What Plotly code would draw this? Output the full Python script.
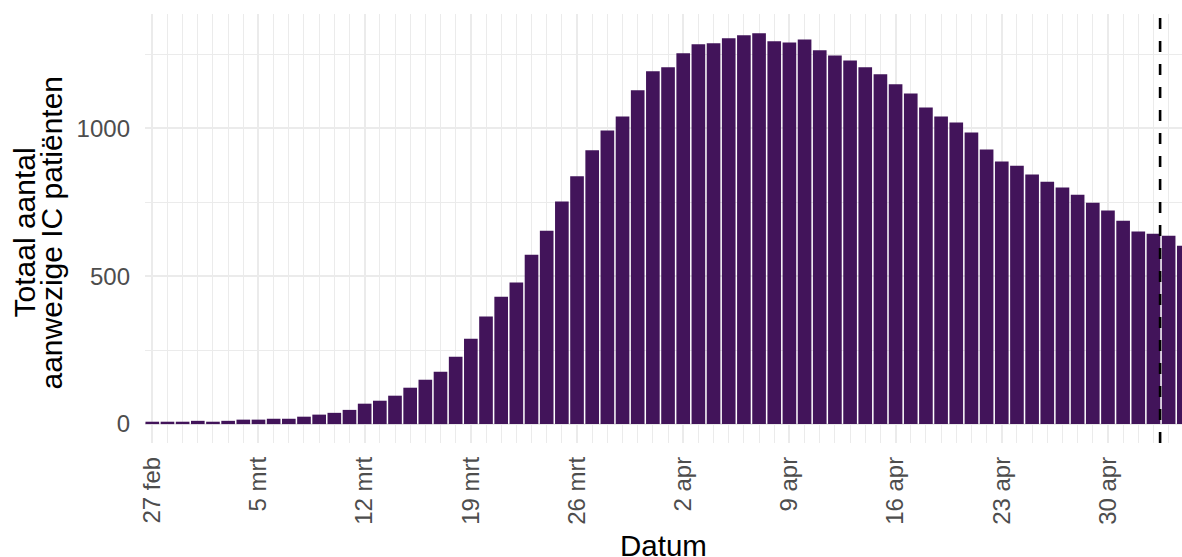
import pandas as pd
import plotly.graph_objects as go

# ---- data -------------------------------------------------------------
start_date = "2020-02-27"
ic_patients = [
    8, 8, 8, 11, 8, 11, 15, 15, 18, 18, 25, 32, 38, 48, 69, 79, 96, 123,
    150, 177, 228, 289, 364, 431, 479, 573,
    654, 753, 838, 926, 993, 1040, 1129, 1193, 1207, 1254, 1285, 1288,
    1305, 1315, 1322, 1295, 1291, 1301, 1264, 1247, 1230, 1207, 1183, 1149,
    1118, 1071, 1040, 1020, 986, 929, 888, 874, 844, 820, 800, 776, 749,
    722, 688, 651, 644, 637, 603,
]
dates = pd.date_range(start_date, periods=len(ic_patients), freq="D")

tick_dates = ["2020-02-27", "2020-03-05", "2020-03-12", "2020-03-19", "2020-03-26",
              "2020-04-02", "2020-04-09", "2020-04-16", "2020-04-23", "2020-04-30"]
tick_labels = ["27 feb", "5 mrt", "12 mrt", "19 mrt", "26 mrt",
               "2 apr", "9 apr", "16 apr", "23 apr", "30 apr"]
y_ticks = [0, 500, 1000]
cutoff_date = "2020-05-03 10:30"

# the panel runs a little past the right edge of the window, so the last bar is cut
x_range = ["2020-02-26 12:28", "2020-05-05 12:58"]
y_range = [-64, 1387]

# ---- styling ----------------------------------------------------------
FONT = "Liberation Sans, Arial, sans-serif"
BAR_COLOR = "#42145A"
GRID = "#EBEBEB"
DAY_MS = 86400000
TICK_SIZE = 24
TITLE_SIZE = 29.5
YTITLE_SIZE = 30

fig = go.Figure()
fig.add_trace(go.Bar(
    x=dates, y=ic_patients,
    width=[0.9 * DAY_MS] * len(ic_patients),
    marker=dict(color=BAR_COLOR, line=dict(width=0)),
    hoverinfo="x+y",
))

fig.add_shape(
    type="line", xref="x", yref="paper",
    x0=cutoff_date, x1=cutoff_date, y0=0, y1=1,
    line=dict(color="black", width=2.6, dash="11px,12px"),
)

fig.update_layout(
    width=1192, height=557,
    margin=dict(l=145, r=0, t=14, b=114),
    plot_bgcolor="white", paper_bgcolor="white",
    showlegend=False,
    font=dict(family=FONT, size=TICK_SIZE, color="#4D4D4D"),
    xaxis=dict(
        type="date", range=x_range,
        tickmode="array", tickvals=tick_dates, ticktext=tick_labels,
        tickangle=-90, ticks="", ticklabelstandoff=8,
        tickfont=dict(size=TICK_SIZE, color="#4D4D4D"),
        showgrid=True, gridcolor=GRID, gridwidth=2,
        zeroline=False, showline=False,
        minor=dict(tickmode="linear", tick0=start_date, dtick=DAY_MS,
                   showgrid=True, gridcolor=GRID, gridwidth=1, ticks=""),
    ),
    yaxis=dict(
        range=y_range,
        tickmode="array", tickvals=y_ticks, ticks="", ticklabelstandoff=14,
        tickfont=dict(size=TICK_SIZE, color="#4D4D4D"),
        showgrid=True, gridcolor=GRID, gridwidth=2,
        zeroline=False, showline=False,
        minor=dict(tickmode="linear", tick0=250, dtick=500,
                   showgrid=True, gridcolor=GRID, gridwidth=1, ticks=""),
    ),
    annotations=[
        dict(text="Datum", xref="paper", yref="paper", x=0.5, y=-0.2378,
             xanchor="center", yanchor="middle", showarrow=False,
             xshift=-5,
             font=dict(family=FONT, size=TITLE_SIZE, color="black")),
        dict(text="Totaal aantal", xref="paper", yref="paper", x=0, y=0.5,
             xanchor="center", yanchor="middle", xshift=-121, yshift=-4,
             textangle=-90, showarrow=False,
             font=dict(family=FONT, size=YTITLE_SIZE, color="black")),
        dict(text="aanwezige IC patiënten", xref="paper", yref="paper", x=0, y=0.5,
             xanchor="center", yanchor="middle", xshift=-94, yshift=-4,
             textangle=-90, showarrow=False,
             font=dict(family=FONT, size=YTITLE_SIZE, color="black")),
    ],
)

fig.write_html(
    "out.html",
    config={"displayModeBar": False},
    post_script="document.body.style.margin='0';document.body.style.overflow='hidden';",
)
